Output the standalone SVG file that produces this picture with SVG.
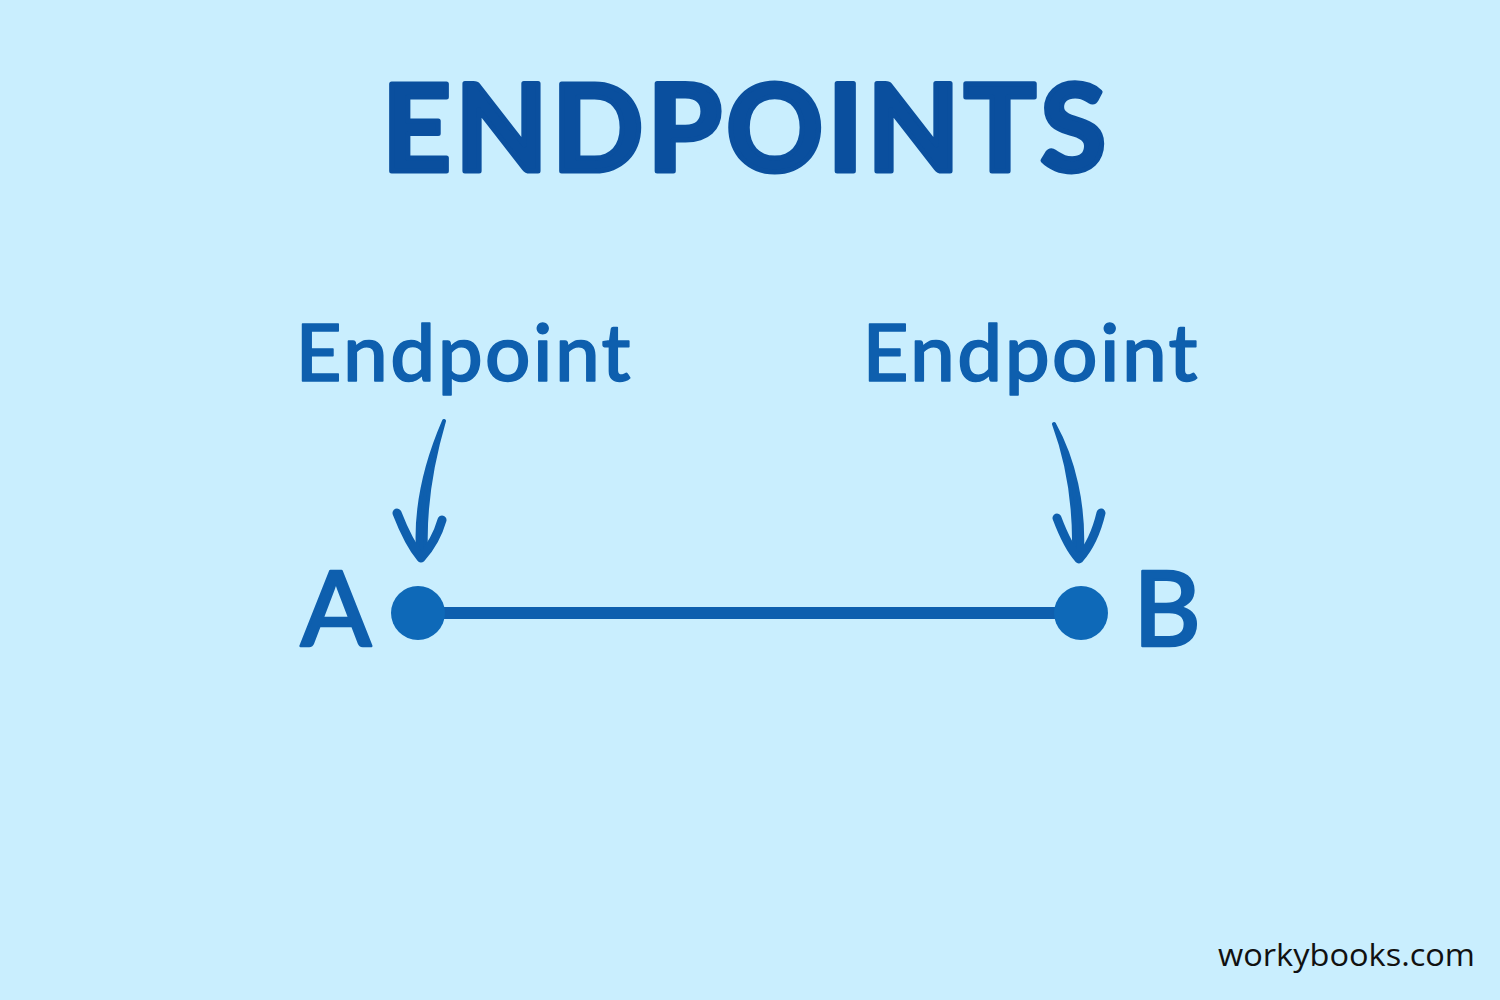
<svg xmlns="http://www.w3.org/2000/svg" width="1500" height="1000" viewBox="0 0 1500 1000">
<style>
.t{fill:#0e5fae;stroke:#0e5fae;stroke-linejoin:round;font-family:"Lato","Open Sans",sans-serif;font-weight:500;text-anchor:middle}
.big{font-size:80px;stroke-width:1.6px}
.let{font-size:104px;stroke-width:2.5px}
.arr{fill:none;stroke:#0e5fae;stroke-width:9;stroke-linecap:round;stroke-linejoin:round}
.shaft{fill:#0e5fae;stroke:#0e5fae;stroke-width:4;stroke-linejoin:round}
</style>
<rect width="1500" height="1000" fill="#c9eefe"/>
<text x="744" y="171" text-anchor="middle" textLength="724" lengthAdjust="spacing" style="fill:#0a4f9e;stroke:#0a4f9e;stroke-width:5px;stroke-linejoin:round;font-family:'Lato',sans-serif;font-weight:700;font-size:120px">ENDPOINTS</text>
<g id="label-left"><text class="t big" x="463" y="381" textLength="335" lengthAdjust="spacing">Endpoint</text></g>
<g id="label-right"><text class="t big" x="1030" y="381" textLength="335" lengthAdjust="spacing">Endpoint</text></g>
<g id="connectors">
<line x1="418" y1="613" x2="1081" y2="613" stroke="#0e5fae" stroke-width="12"/>
<path class="shaft" d="M444 421C428 458 415 505 418 552L426 552C424 505 432 462 444 421Z"/>
<path class="arr" d="M397 513C404 531 412 547 421 558C430 548 438 534 442 520"/>
<path class="shaft" d="M1054 424C1068 462 1075 505 1074 552L1082 552C1084 505 1074 460 1054 424Z"/>
<path class="arr" d="M1057 518C1063 534 1070 549 1079 559C1088 549 1096 534 1101 513"/>
</g>
<g id="node-a"><circle cx="418" cy="613" r="27" fill="#0e69b8"/><text class="t let" x="336" y="646">A</text></g>
<g id="node-b"><circle cx="1081" cy="613" r="27" fill="#0e69b8"/><text class="t let" x="1167" y="646">B</text></g>
<text x="1346.5" y="966" text-anchor="middle" textLength="257" lengthAdjust="spacingAndGlyphs" style="fill:#111;font-family:'Open Sans',sans-serif;font-size:31px">workybooks.com</text>
</svg>
